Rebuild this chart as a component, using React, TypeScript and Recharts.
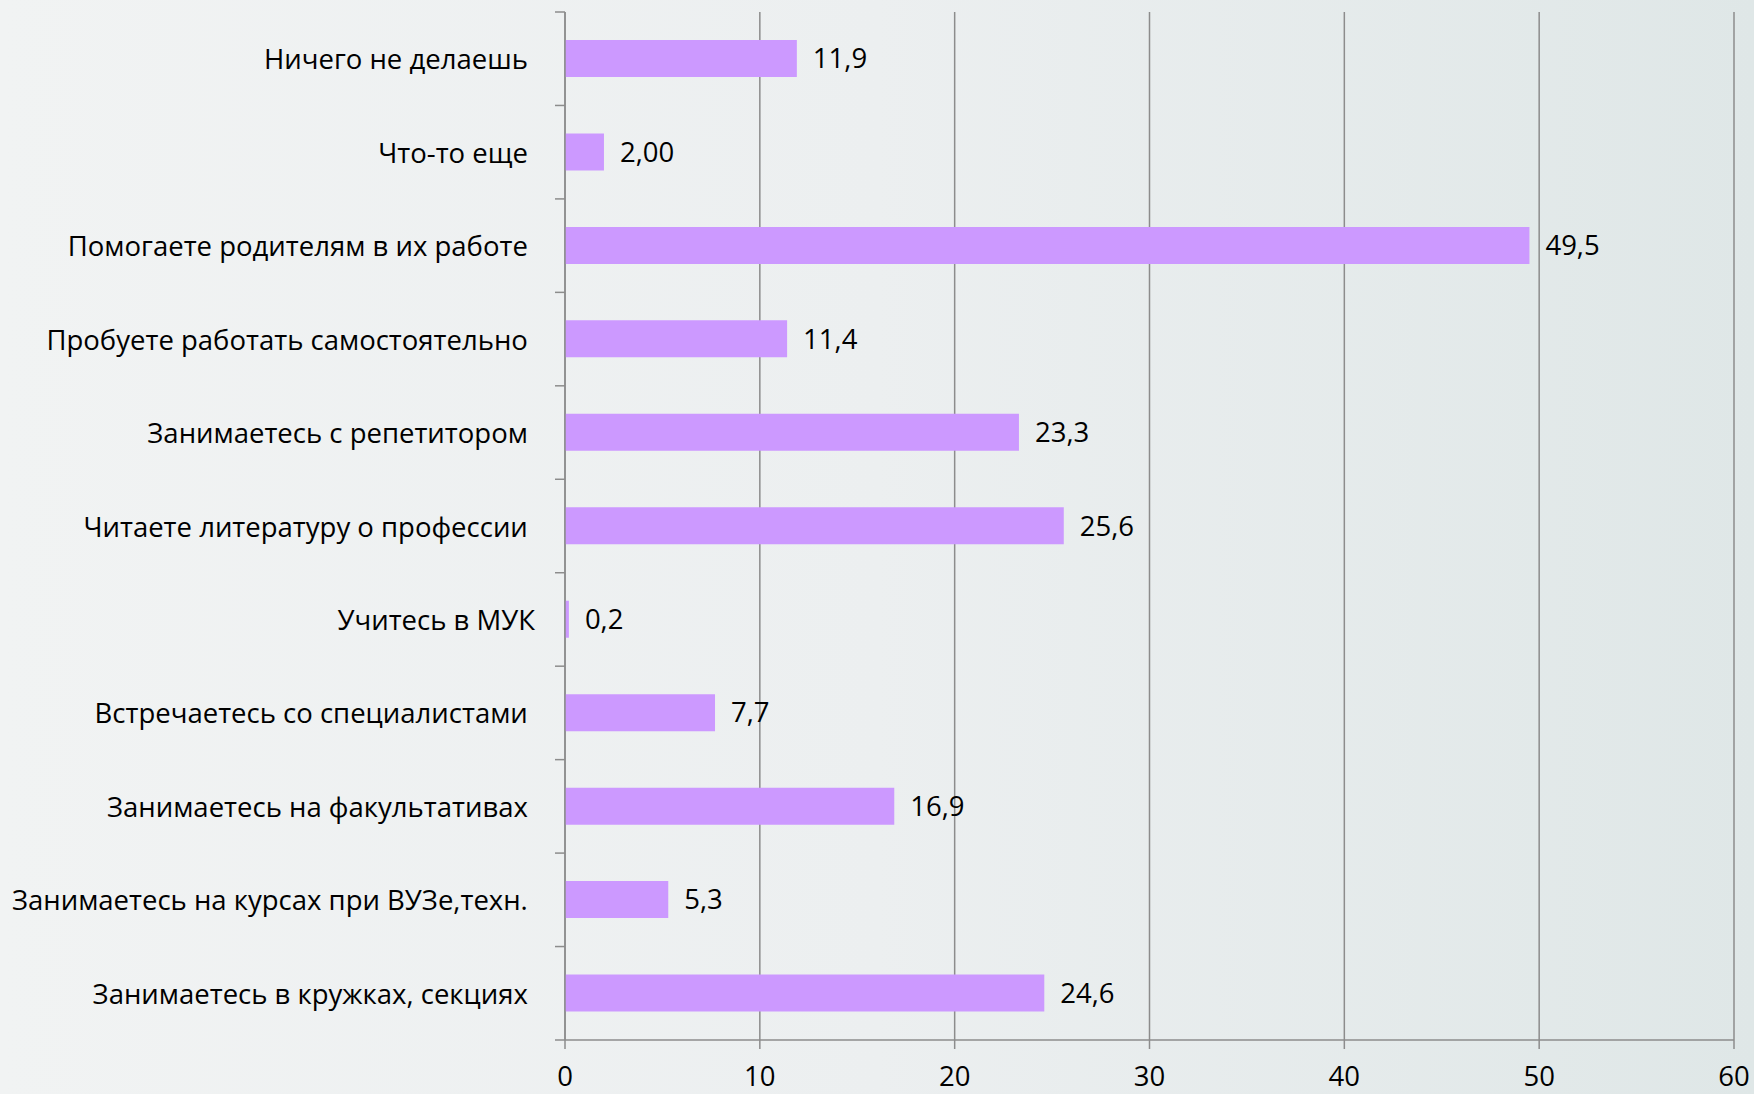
import React from "react";
import {
  BarChart,
  Bar,
  XAxis,
  YAxis,
  CartesianGrid,
  LabelList,
} from "recharts";

const categories = [
  "Ничего не делаешь\u00A0",
  "Что-то еще\u00A0",
  "Помогаете родителям в их работе\u00A0",
  "Пробуете работать самостоятельно\u00A0",
  "Занимаетесь с репетитором\u00A0",
  "Читаете литературу о профессии\u00A0",
  "Учитесь в МУК",
  "Встречаетесь со специалистами\u00A0",
  "Занимаетесь на факультативах\u00A0",
  "Занимаетесь на курсах при ВУЗе,техн.\u00A0",
  "Занимаетесь в кружках, секциях\u00A0",
];
const values = [11.9, 2.0, 49.5, 11.4, 23.3, 25.6, 0.2, 7.7, 16.9, 5.3, 24.6];
const valueLabels = ["11,9", "2,00", "49,5", "11,4", "23,3", "25,6", "0,2", "7,7", "16,9", "5,3", "24,6"];
const xTicks = [0, 10, 20, 30, 40, 50, 60];

const data = categories.map((name, i) => ({
  name,
  value: values[i],
  label: valueLabels[i],
}));

const W = 1754;
const H = 1094;
const X_AXIS_H = 54;
const M = { top: 12, right: 20, bottom: 0, left: 0 };
const BAND = (H - M.top - X_AXIS_H) / categories.length;
const FONT = "'Open Sans', 'DejaVu Sans', sans-serif";
const FS = 27.5;
const GRAY = "#8c8c8c";

const CategoryTick = (props: any) => {
  const { x, y, payload, index } = props;
  const axisX = x + 30;
  return (
    <g>
      <text
        x={x}
        y={y}
        textAnchor="end"
        dominantBaseline="central"
        fontSize={FS}
        fill="#000"
        fontFamily={FONT}
      >
        {payload.value}
      </text>
      <line x1={axisX - 10} x2={axisX} y1={y - BAND / 2} y2={y - BAND / 2} stroke={GRAY} strokeWidth={1.5} />
      {index === categories.length - 1 && (
        <line x1={axisX - 10} x2={axisX} y1={y + BAND / 2} y2={y + BAND / 2} stroke={GRAY} strokeWidth={1.5} />
      )}
    </g>
  );
};

export default function App() {
  return (
    <div
      style={{
        position: "absolute",
        left: 0,
        top: 0,
        width: W,
        height: H,
        background: "linear-gradient(90deg, #f1f3f3 0%, #eceff0 50%, #dfe7e7 100%)",
      }}
    >
      <BarChart width={W} height={H} data={data} layout="vertical" margin={M}>
        <CartesianGrid horizontal={false} vertical={true} stroke={GRAY} strokeWidth={1.5} />
        <XAxis
          type="number"
          domain={[0, 60]}
          ticks={xTicks}
          interval={0}
          tickSize={9}
          tickMargin={17}
          stroke={GRAY}
          strokeWidth={1.5}
          tick={{ fontSize: FS, fill: "#000", fontFamily: FONT }}
          height={X_AXIS_H}
        />
        <YAxis
          type="category"
          dataKey="name"
          width={565}
          tickSize={9}
          tickMargin={21}
          tickLine={false}
          stroke={GRAY}
          strokeWidth={1.5}
          interval={0}
          tick={<CategoryTick />}
        />
        <Bar dataKey="value" fill="#cc99ff" barSize={37} isAnimationActive={false}>
          <LabelList
            dataKey="label"
            position="right"
            offset={16}
            fontSize={FS}
            fill="#000"
            fontFamily={FONT}
          />
        </Bar>
      </BarChart>
    </div>
  );
}
